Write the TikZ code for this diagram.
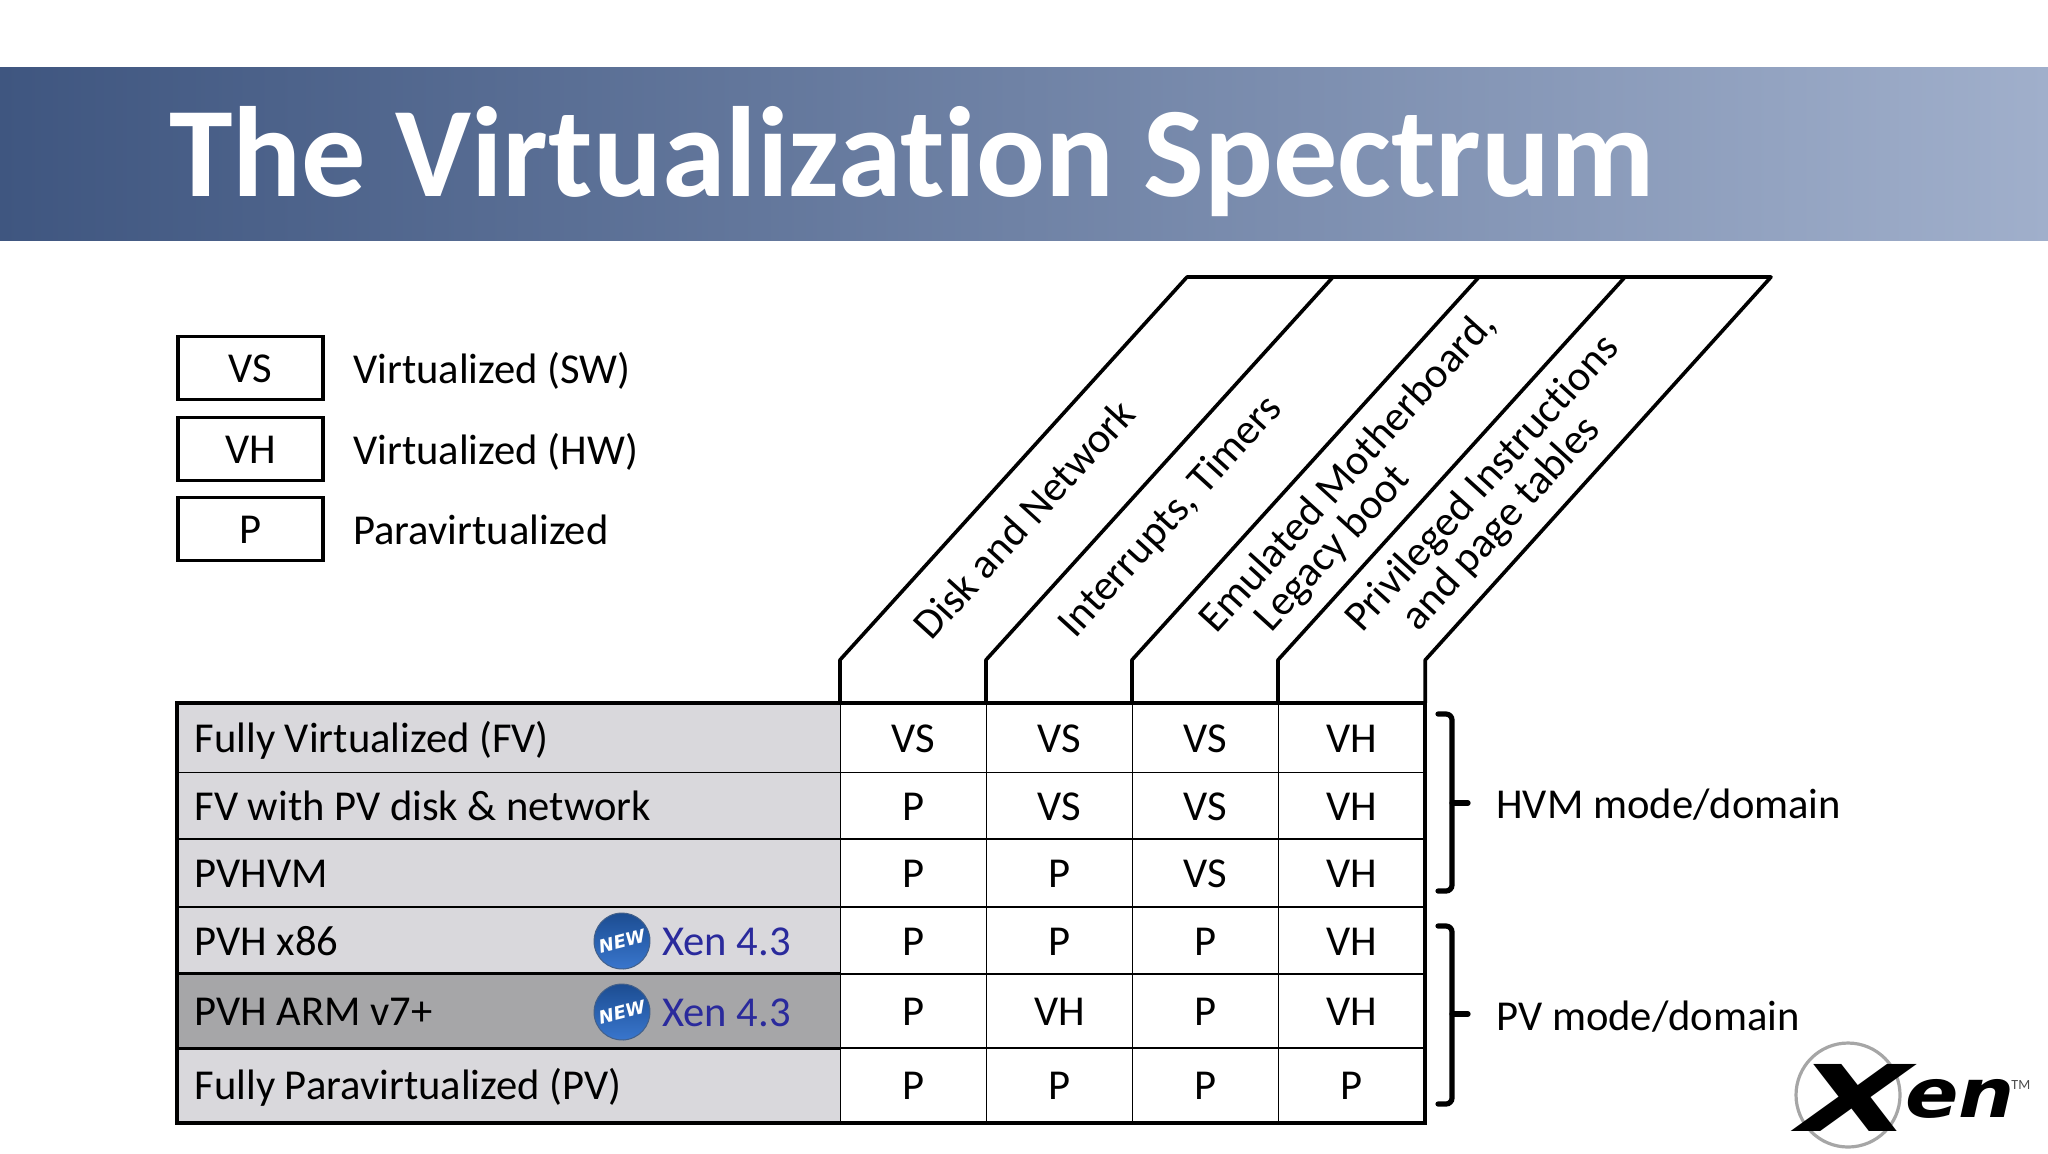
\documentclass[tikz,border=0pt]{standalone}
\usepackage{fontspec}
\setmainfont[Ligatures=NoCommon]{Carlito}
\newfontfamily\logofont{DejaVu Sans}
\usetikzlibrary{positioning,shapes.geometric}
\definecolor{barleft}{HTML}{3F5680}
\definecolor{barright}{HTML}{A0AFCB}
\definecolor{rowlight}{HTML}{D9D8DC}
\definecolor{rowdark}{HTML}{A6A6A8}
\definecolor{xenblue}{HTML}{2A2A9C}
\definecolor{balltop}{HTML}{1B4B8F}
\definecolor{ballbot}{HTML}{3A78D0}
\tikzset{font=\fontsize{21.3}{25}\selectfont}
\tikzstyle{lgbox}=[draw,line width=1.8pt,minimum width=72.5pt,minimum height=31.5pt,inner sep=0pt,text height=14pt,text depth=0pt]
\tikzstyle{lgtext}=[anchor=west,inner sep=0pt,text height=14pt,text depth=0pt]
\tikzstyle{rowname}=[draw,fill=rowlight,line width=.6pt,minimum width=331.5pt,text width=314.5pt,align=flush left,inner sep=0pt,anchor=west,text height=14pt,text depth=0pt]
\tikzstyle{cell}=[draw,line width=.6pt,minimum width=73pt,inner sep=0pt,anchor=west,text height=14pt,text depth=0pt]
\tikzstyle{hdr}=[rotate=47.7,inner sep=0pt]
\tikzstyle{tilt}=[line width=1.8pt,line join=round]
\tikzstyle{brk}=[line width=2.6pt,rounded corners=3pt,line cap=round]
\tikzstyle{newball}=[circle,minimum size=28pt,inner sep=0pt,top color=balltop,bottom color=ballbot,draw=balltop!60!gray,line width=.5pt,text=white,font=\logofont\bfseries\itshape\fontsize{9}{9}\selectfont,text depth=0pt]
\tikzstyle{xentag}=[anchor=west,inner sep=0pt,text=xenblue,text height=14pt,text depth=0pt]
\begin{document}
\begin{tikzpicture}
  [x=.5pt,y=-.5pt]
\useasboundingbox (0,0) rectangle (2048,1153);
\fill[left color=barleft,right color=barright] (0,67) rectangle (2048,240);
\node[anchor=base west,inner sep=0pt,text=white,font=\bfseries\fontsize{64.2}{68}\selectfont] (title) at (169,196) {The Virtualization Spectrum};
\node[lgbox] (vs) at (250.5,368) {VS};
\node[lgbox] (vh) at (250.5,449) {VH};
\node[lgbox] (p) at (250.5,529) {P};
\node[lgtext] (vst) at (353,369) {Virtualized (SW)};
\node[lgtext] (vht) at (353,450) {Virtualized (HW)};
\node[lgtext] (pt) at (353,530) {Paravirtualized};
\node[rowname,minimum height=34.5pt] (r1) at (177,738) {Fully Virtualized (FV)};
\node[rowname,minimum height=33.5pt] (r2) at (177,806) {FV with PV disk \& network};
\node[rowname,minimum height=34pt] (r3) at (177,873) {PVHVM};
\node[rowname,minimum height=33.5pt] (r4) at (177,941) {PVH x86};
\node[rowname,minimum height=37pt,fill=rowdark] (r5) at (177,1011) {PVH ARM v7+};
\node[rowname,minimum height=37.5pt] (r6) at (177,1085) {Fully Paravirtualized (PV)};
\node[cell,minimum height=34.5pt] (c11) at (840,738) {VS};
\node[cell,minimum height=34.5pt] (c12) at (986,738) {VS};
\node[cell,minimum height=34.5pt] (c13) at (1132,738) {VS};
\node[cell,minimum height=34.5pt] (c14) at (1278,738) {VH};
\node[cell,minimum height=33.5pt] (c21) at (840,806) {P};
\node[cell,minimum height=33.5pt] (c22) at (986,806) {VS};
\node[cell,minimum height=33.5pt] (c23) at (1132,806) {VS};
\node[cell,minimum height=33.5pt] (c24) at (1278,806) {VH};
\node[cell,minimum height=34pt] (c31) at (840,873) {P};
\node[cell,minimum height=34pt] (c32) at (986,873) {P};
\node[cell,minimum height=34pt] (c33) at (1132,873) {VS};
\node[cell,minimum height=34pt] (c34) at (1278,873) {VH};
\node[cell,minimum height=33.5pt] (c41) at (840,941) {P};
\node[cell,minimum height=33.5pt] (c42) at (986,941) {P};
\node[cell,minimum height=33.5pt] (c43) at (1132,941) {P};
\node[cell,minimum height=33.5pt] (c44) at (1278,941) {VH};
\node[cell,minimum height=37pt] (c51) at (840,1011) {P};
\node[cell,minimum height=37pt] (c52) at (986,1011) {VH};
\node[cell,minimum height=37pt] (c53) at (1132,1011) {P};
\node[cell,minimum height=37pt] (c54) at (1278,1011) {VH};
\node[cell,minimum height=37.5pt] (c61) at (840,1085) {P};
\node[cell,minimum height=37.5pt] (c62) at (986,1085) {P};
\node[cell,minimum height=37.5pt] (c63) at (1132,1085) {P};
\node[cell,minimum height=37.5pt] (c64) at (1278,1085) {P};
\draw[line width=2pt] (r1.north west) rectangle (c64.south east);
\draw[line width=1.4pt] (r5.north west) -- (r5.north east);
\draw[line width=1.2pt] (r5.south west) -- (r5.south east);
\node[newball,rotate=14] (new1) at (622,941) {NEW};
\node[newball,rotate=14] (new2) at (622,1012) {NEW};
\node[xentag,right=20pt of new1.center] (xen1) {Xen 4.3};
\node[xentag,right=20pt of new2.center] (xen2) {Xen 4.3};
\coordinate (t1) at (1187,277);
\coordinate (t2) at (1333,277);
\coordinate (t3) at (1479,277);
\coordinate (t4) at (1625,277);
\coordinate (t5) at (1771,277);
\draw[tilt] (c11.north west) -- ++(0,-43) -- (t1) -- (t5) -- (c14.north east |- 0,660) -- (c14.north east);
\draw[tilt] (c12.north west) -- ++(0,-43) -- (t2);
\draw[tilt] (c13.north west) -- ++(0,-43) -- (t3);
\draw[tilt] (c14.north west) -- ++(0,-43) -- (t4);
\node[hdr] (h1) at (1024,519) {Disk and Network};
\node[hdr] (h2) at (1171,517) {Interrupts, Timers};
\node[hdr] (h3) at (1348,472) {Emulated Motherboard,};
\node[hdr] (h3b) at (1333,549) {Legacy boot};
\node[hdr] (h4) at (1483,484) {Privileged Instructions};
\node[hdr] (h4b) at (1502,524) {and page tables};
\node[lgtext] (hvm) at (1496,804) {HVM mode/domain};
\node[lgtext] (pvm) at (1496,1016) {PV mode/domain};
\draw[brk] (1438,714) -- (1452,714) -- (1452,891) -- (1438,891);
\draw[brk,rounded corners=0pt] (1452,803) -- (1468,803);
\draw[brk] (1438,926) -- (1452,926) -- (1452,1104) -- (1438,1104);
\draw[brk,rounded corners=0pt] (1452,1014) -- (1468,1014);
\draw[line width=1.6pt,draw=black!35] (1848,1095) circle (26pt);
\node[inner sep=0pt,font=\logofont\bfseries\itshape\fontsize{46}{46}\selectfont,xscale=1.59] (xenx) at (1855,1098) {X};
\node[inner sep=0pt,anchor=west,font=\logofont\bfseries\itshape\fontsize{34}{34}\selectfont,xscale=1.16] (xenen) at (1905,1099) {en};
\node[inner sep=0pt,anchor=west,font=\fontsize{7}{7}\selectfont,text=black!70] (tm) at (2011,1085) {TM};
\end{tikzpicture}
\end{document}
